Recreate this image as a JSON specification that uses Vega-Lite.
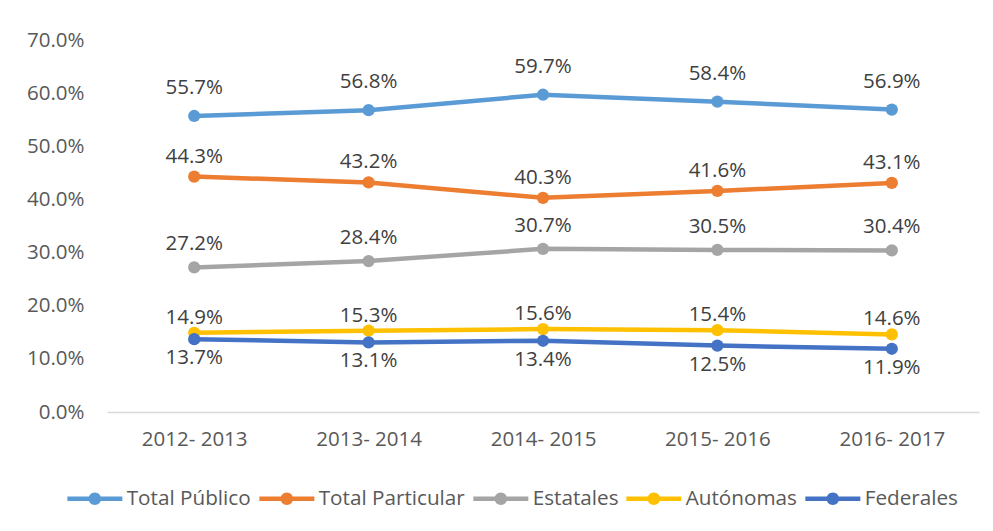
{
  "$schema": "https://vega.github.io/schema/vega-lite/v6.json",
  "width": 872,
  "height": 372,
  "autosize": {"type": "none"},
  "padding": {"left": 107, "top": 40, "right": 14, "bottom": 119},
  "background": "white",
  "config": {
    "view": {"stroke": null},
    "font": "Open Sans"
  },
  "data": {
    "values": [
      {"ciclo": "2012- 2013", "serie": "Total Público", "valor": 0.557},
      {"ciclo": "2013- 2014", "serie": "Total Público", "valor": 0.568},
      {"ciclo": "2014- 2015", "serie": "Total Público", "valor": 0.597},
      {"ciclo": "2015- 2016", "serie": "Total Público", "valor": 0.584},
      {"ciclo": "2016- 2017", "serie": "Total Público", "valor": 0.569},
      {"ciclo": "2012- 2013", "serie": "Total Particular", "valor": 0.443},
      {"ciclo": "2013- 2014", "serie": "Total Particular", "valor": 0.432},
      {"ciclo": "2014- 2015", "serie": "Total Particular", "valor": 0.403},
      {"ciclo": "2015- 2016", "serie": "Total Particular", "valor": 0.416},
      {"ciclo": "2016- 2017", "serie": "Total Particular", "valor": 0.431},
      {"ciclo": "2012- 2013", "serie": "Estatales", "valor": 0.272},
      {"ciclo": "2013- 2014", "serie": "Estatales", "valor": 0.284},
      {"ciclo": "2014- 2015", "serie": "Estatales", "valor": 0.307},
      {"ciclo": "2015- 2016", "serie": "Estatales", "valor": 0.305},
      {"ciclo": "2016- 2017", "serie": "Estatales", "valor": 0.304},
      {"ciclo": "2012- 2013", "serie": "Autónomas", "valor": 0.149},
      {"ciclo": "2013- 2014", "serie": "Autónomas", "valor": 0.153},
      {"ciclo": "2014- 2015", "serie": "Autónomas", "valor": 0.156},
      {"ciclo": "2015- 2016", "serie": "Autónomas", "valor": 0.154},
      {"ciclo": "2016- 2017", "serie": "Autónomas", "valor": 0.146},
      {"ciclo": "2012- 2013", "serie": "Federales", "valor": 0.137},
      {"ciclo": "2013- 2014", "serie": "Federales", "valor": 0.131},
      {"ciclo": "2014- 2015", "serie": "Federales", "valor": 0.134},
      {"ciclo": "2015- 2016", "serie": "Federales", "valor": 0.125},
      {"ciclo": "2016- 2017", "serie": "Federales", "valor": 0.119}
    ]
  },
  "encoding": {
    "x": {
      "field": "ciclo",
      "type": "ordinal",
      "sort": null,
      "axis": {
        "title": null,
        "labelAngle": 0,
        "labelFont": "Open Sans",
        "labelFontSize": 20.5,
        "labelColor": "#595959",
        "labelPadding": 17,
        "ticks": false,
        "domainColor": "#d9d9d9",
        "domainWidth": 1.5,
        "grid": false
      }
    },
    "y": {
      "field": "valor",
      "type": "quantitative",
      "scale": {"domain": [0, 0.7], "nice": false},
      "axis": {
        "title": null,
        "format": ".1%",
        "values": [0, 0.1, 0.2, 0.3, 0.4, 0.5, 0.6, 0.7],
        "labelFont": "Open Sans",
        "labelFontSize": 20.5,
        "labelColor": "#595959",
        "labelPadding": 23,
        "ticks": false,
        "domain": false,
        "grid": false
      }
    }
  },
  "layer": [
    {
      "mark": {"type": "line", "strokeWidth": 4.5, "point": {"filled": true, "size": 150}},
      "encoding": {
        "color": {
          "field": "serie",
          "type": "nominal",
          "scale": {
            "domain": ["Total Público", "Total Particular", "Estatales", "Autónomas", "Federales"],
            "range": ["#5b9bd5", "#ed7d31", "#a5a5a5", "#ffc000", "#4472c4"]
          },
          "legend": {
            "title": null,
            "orient": "none",
            "direction": "horizontal",
            "legendX": -22.5,
            "legendY": 448,
            "padding": 0,
            "symbolType": "M-5.5,-0.45L5.5,-0.45L5.5,0.45L-5.5,0.45ZM1.25,0A1.25,1.25,0,1,1,-1.25,0A1.25,1.25,0,1,1,1.25,0Z",
            "symbolSize": 100,
            "symbolStrokeWidth": 0,
            "labelOffset": 21.5,
            "columnPadding": 7,
            "labelFont": "Open Sans",
            "labelFontSize": 20.7,
            "labelColor": "#595959",
            "encode": {
              "symbols": {
                "update": {
                  "fill": {"scale": "color", "field": "value"},
                  "fillOpacity": {"value": 1},
                  "strokeWidth": {"value": 0}
                }
              }
            }
          }
        }
      }
    },
    {
      "transform": [{"filter": "datum.serie === 'Total Público'"}],
      "mark": {"type": "text", "dy": -28, "fontSize": 20.5, "font": "Open Sans", "color": "#404040"},
      "encoding": {"text": {"field": "valor", "type": "quantitative", "format": ".1%"}}
    },
    {
      "transform": [{"filter": "datum.serie === 'Total Particular'"}],
      "mark": {"type": "text", "dy": -20, "fontSize": 20.5, "font": "Open Sans", "color": "#404040"},
      "encoding": {"text": {"field": "valor", "type": "quantitative", "format": ".1%"}}
    },
    {
      "transform": [{"filter": "datum.serie === 'Estatales'"}],
      "mark": {"type": "text", "dy": -23, "fontSize": 20.5, "font": "Open Sans", "color": "#404040"},
      "encoding": {"text": {"field": "valor", "type": "quantitative", "format": ".1%"}}
    },
    {
      "transform": [{"filter": "datum.serie === 'Autónomas'"}],
      "mark": {"type": "text", "dy": -15, "fontSize": 20.5, "font": "Open Sans", "color": "#404040"},
      "encoding": {"text": {"field": "valor", "type": "quantitative", "format": ".1%"}}
    },
    {
      "transform": [{"filter": "datum.serie === 'Federales'"}],
      "mark": {"type": "text", "dy": 19, "fontSize": 20.5, "font": "Open Sans", "color": "#404040"},
      "encoding": {"text": {"field": "valor", "type": "quantitative", "format": ".1%"}}
    }
  ]
}
